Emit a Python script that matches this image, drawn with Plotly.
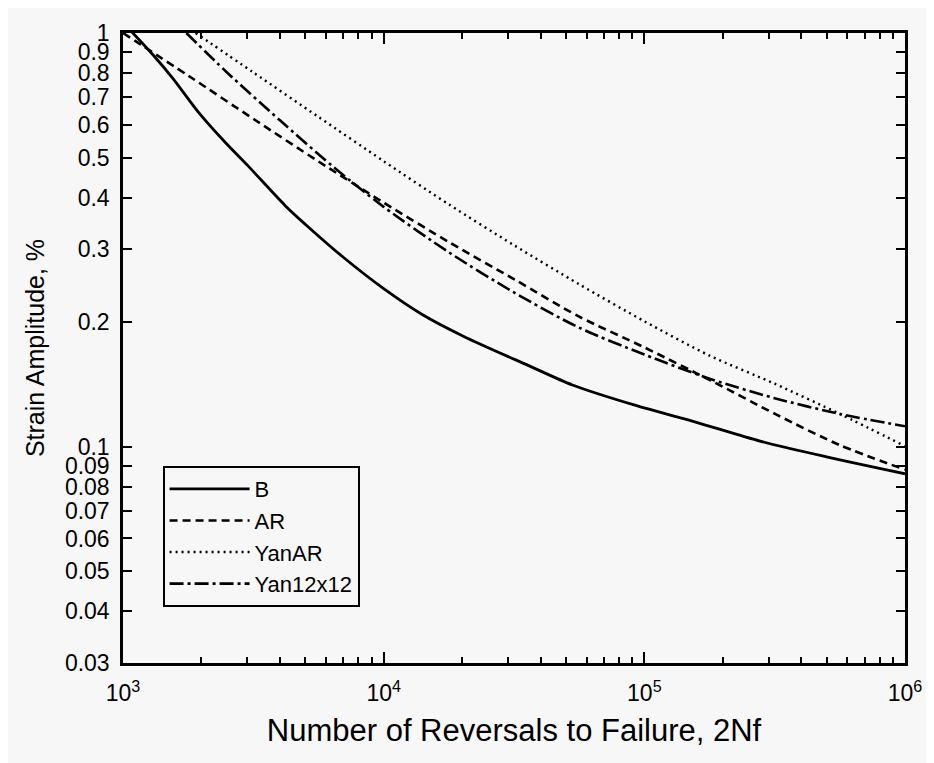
import plotly.graph_objects as go

# Data (strain amplitude %, vs reversals 2Nf)
b_x = [1000, 1300, 1550, 1960, 2480, 3030, 4200, 5000, 7000, 10000, 14000, 20200,
       36000, 53000, 92000, 155000, 280000, 500000, 1000000]
b_y = [1.06, 0.887, 0.778, 0.64, 0.542, 0.476, 0.382, 0.345, 0.287, 0.241, 0.209, 0.185,
       0.157, 0.141, 0.126, 0.115, 0.103, 0.0945, 0.086]

ar_x = [1000, 1800, 3200, 5600, 10000, 18000, 32000, 56000, 100000, 180000, 320000,
        560000, 1000000]
ar_y = [1.0, 0.785, 0.617, 0.49, 0.389, 0.311, 0.253, 0.2065, 0.1738, 0.1445, 0.1197,
        0.101, 0.088]

yanar_x = [1900, 3160, 5620, 10000, 17800, 31600, 56200, 100000, 178000, 316000,
           562000, 1000000]
yanar_y = [1.0, 0.803, 0.627, 0.49, 0.385, 0.307, 0.247, 0.201, 0.166, 0.142, 0.12, 0.1003]

yan12_x = [1750, 2500, 4000, 6300, 10000, 17800, 31600, 56200, 100000, 178000, 316000,
           562000, 1000000]
yan12_y = [1.0, 0.804, 0.615, 0.479, 0.380, 0.295, 0.236, 0.194, 0.167, 0.146, 0.131,
           0.120, 0.112]

x_tickvals = [1e3, 1e4, 1e5, 1e6]
x_ticktext = ["10<sup>3</sup>", "10<sup>4</sup>", "10<sup>5</sup>", "10<sup>6</sup>"]
y_tickvals = [0.03, 0.04, 0.05, 0.06, 0.07, 0.08, 0.09, 0.1, 0.2, 0.3, 0.4, 0.5,
              0.6, 0.7, 0.8, 0.9, 1]
y_ticktext = ["0.03", "0.04", "0.05", "0.06", "0.07", "0.08", "0.09", "0.1", "0.2",
              "0.3", "0.4", "0.5", "0.6", "0.7", "0.8", "0.9", "1"]

FONT = "Liberation Sans, Arial, sans-serif"
BG = "#f7f7f7"
LINE = dict(color="black", shape="spline", smoothing=0.8)

fig = go.Figure()
fig.add_trace(go.Scatter(x=b_x, y=b_y, mode="lines", name="B",
                         line=dict(LINE, width=2.8, dash="solid")))
fig.add_trace(go.Scatter(x=ar_x, y=ar_y, mode="lines", name="AR",
                         line=dict(LINE, width=2.6, dash="8px,5px")))
fig.add_trace(go.Scatter(x=yanar_x, y=yanar_y, mode="lines", name="YanAR",
                         line=dict(LINE, width=2.4, dash="2px,4px")))
fig.add_trace(go.Scatter(x=yan12_x, y=yan12_y, mode="lines", name="Yan12x12",
                         line=dict(LINE, width=2.6, dash="14px,4px,3px,4px")))

fig.update_layout(
    width=926, height=755,
    margin=dict(l=115, r=21, t=12, b=100),
    paper_bgcolor=BG, plot_bgcolor=BG,
    font=dict(family=FONT, color="black", size=23),
    showlegend=True,
    legend=dict(x=0.0506, y=0.3126, xanchor="left", yanchor="top",
                bgcolor=BG, bordercolor="black", borderwidth=2,
                font=dict(family=FONT, size=22, color="black"),
                itemwidth=80, tracegroupgap=0),
)

fig.update_xaxes(
    type="log", range=[3, 6],
    tickvals=x_tickvals, ticktext=x_ticktext,
    ticks="inside", ticklen=11, tickwidth=2, tickcolor="black",
    minor=dict(ticks="inside", ticklen=6, tickwidth=1.5, tickcolor="black",
               dtick="D1", showgrid=False),
    showline=True, linecolor="black", linewidth=2.5, mirror="allticks",
    showgrid=False, zeroline=False,
    tickfont=dict(family=FONT, size=23), ticklabelstandoff=8,
    title=dict(text="Number of Reversals to Failure, 2Nf",
               font=dict(family=FONT, size=31), standoff=14),
)
fig.update_yaxes(
    type="log", range=[-1.5229, 0],
    tickvals=y_tickvals, ticktext=y_ticktext,
    ticks="inside", ticklen=9, tickwidth=2, tickcolor="black",
    showline=True, linecolor="black", linewidth=2.5, mirror="allticks",
    showgrid=False, zeroline=False,
    tickfont=dict(family=FONT, size=23), ticklabelstandoff=6,
    title=dict(text="Strain Amplitude, %",
               font=dict(family=FONT, size=25), standoff=14),
)

fig.write_html("out.html")
